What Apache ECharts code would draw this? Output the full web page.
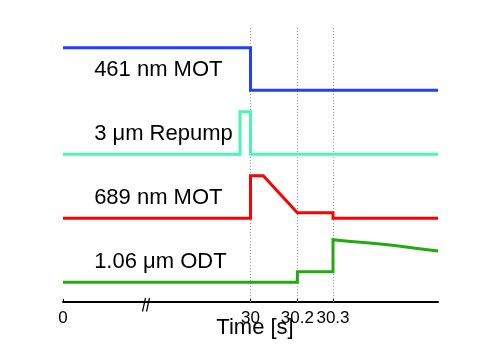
<!DOCTYPE html>
<html>
<head>
<meta charset="utf-8">
<script src="https://cdn.jsdelivr.net/npm/echarts@6/dist/echarts.min.js"></script>
<style>
  html, body { margin: 0; padding: 0; background: #fff; }
  #main { width: 485px; height: 346px; }
</style>
</head>
<body>
<div id="main"></div>
<script>
// x is in display units (0..100) because the time axis is broken / not to scale
var tickPos = [0, 50, 62.5, 72];
var tickLabels = ['0', '30', '30.2', '30.3'];

var names = ['461 nm MOT', '3 \u03bcm Repump', '689 nm MOT', '1.06 \u03bcm ODT'];
var offsets = [4.5, 3, 1.5, 0];
var colors = ['#2040ff', '#4cf5b0', '#ff0000', '#22aa0e'];

var blueX = [0, 50, 50, 100];
var blueY = [1, 1, 0, 0];
var repumpX = [0, 47.2, 47.2, 50, 50, 100];
var repumpY = [0, 0, 1, 1, 0, 0];
var redX = [0, 50, 50, 53.4, 62.5, 72, 72, 100];
var redY = [0, 0, 1, 1, 0.13, 0.13, 0, 0];
var greenX = [0, 62.5, 62.5, 72, 72, 76, 81, 86, 90, 95, 100];
var greenY = [0, 0, 0.25, 0.25, 1.0, 0.965, 0.93, 0.885, 0.845, 0.79, 0.735];

var traceX = [blueX, repumpX, redX, greenX];
var traceY = [blueY, repumpY, redY, greenY];

var myChart = echarts.init(document.getElementById('main'));
var font = 'Liberation Sans, Arial, Helvetica, sans-serif';

var series = traceX.map(function (xs, i) {
    return {
        name: names[i],
        type: 'line',
        showSymbol: false,
        symbol: 'none',
        animation: false,
        z: 3,
        lineStyle: { color: colors[i], width: 3, join: 'miter' },
        data: xs.map(function (x, j) { return [x, traceY[i][j] + offsets[i]]; })
    };
});
// dotted guides at the marked times
series[3].markLine = {
    silent: true,
    symbol: 'none',
    z: 1,
    label: { show: false },
    lineStyle: { color: '#999', type: [1, 2], width: 1 },
    data: tickPos.slice(1).map(function (p) { return { xAxis: p }; })
};

myChart.setOption({
    animation: false,
    grid: { left: 63, right: 47, top: 28, bottom: 44, containLabel: false, outerBoundsMode: 'none' },
    xAxis: {
        type: 'value',
        min: 0, max: 100,
        name: 'Time [s]',
        nameLocation: 'middle',
        nameGap: 15,
        nameMoveOverlap: false,
        nameTextStyle: { fontSize: 22, color: '#000', fontFamily: font, padding: [0, 0, 0, 9] },
        axisLine: { onZero: false, lineStyle: { color: '#000', width: 2 } },
        axisTick: { inside: true, length: 3, customValues: tickPos, lineStyle: { color: '#000' } },
        axisLabel: {
            customValues: tickPos,
            margin: 8,
            fontSize: 17,
            color: '#000',
            fontFamily: font,
            formatter: function (v) {
                var k = tickPos.indexOf(v);
                return k >= 0 ? tickLabels[k] : '';
            }
        },
        splitLine: { show: false }
    },
    yAxis: {
        type: 'value',
        min: -0.46, max: 5.96,
        show: false
    },
    series: series
});

// trace labels and the axis break mark
var graphics = names.map(function (n, i) {
    var p = myChart.convertToPixel({ gridIndex: 0 }, [8.3, offsets[i] + 0.48]);
    return {
        type: 'text',
        x: p[0], y: p[1],
        style: { text: n, fill: '#000', fontSize: 22, fontFamily: font, verticalAlign: 'middle', align: 'left' }
    };
});
graphics.push({ type: 'line', shape: { x1: 142.5, y1: 311.5, x2: 145.5, y2: 298 }, style: { stroke: '#000', lineWidth: 1.2 } });
graphics.push({ type: 'line', shape: { x1: 146.5, y1: 311.5, x2: 149.5, y2: 298 }, style: { stroke: '#000', lineWidth: 1.2 } });
myChart.setOption({ graphic: graphics });
</script>
</body>
</html>
